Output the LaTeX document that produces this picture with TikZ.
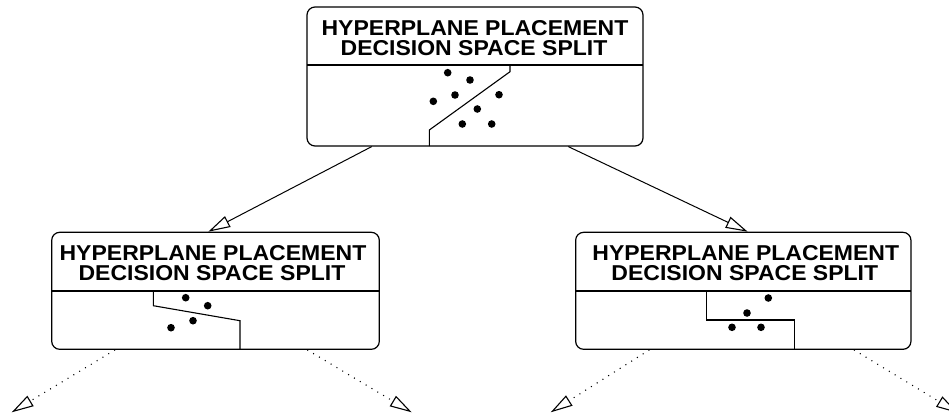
\documentclass[tikz,border=0pt]{standalone}
\usepackage{fontspec}
\setmainfont{Liberation Sans}[FakeStretch=1.07]
\usetikzlibrary{arrows.meta}
\tikzset{
  box/.style={draw, line width=1.2pt, rounded corners=8pt, inner sep=0pt},
  title/.style={anchor=base, inner sep=0pt, font=\fontsize{21.5}{20}\selectfont\bfseries},
  split/.style={line width=1.1pt},
  dot/.style={fill=black},
  link/.style={line width=1pt, -{Triangle[open, length=22pt, width=12pt, line width=1.1pt]}},
  weak/.style={line width=1.1pt, dash pattern=on 1pt off 5.8pt, -{Triangle[open, length=22pt, width=12pt, line width=1.1pt]}}
}
\begin{document}
\begin{tikzpicture}[x=1pt, y=-1pt]
\clip (0,0) rectangle (949,413);
\fill[white] (0,0) rectangle (949,413);

% boxes
\node[box, minimum width=336pt, minimum height=139pt] (top) at (475,76.5) {};
\node[box, minimum width=327.6pt, minimum height=117pt] (left) at (215.5,290.8) {};
\node[box, minimum width=335.3pt, minimum height=117pt] (right) at (743.3,290.8) {};

% dividers
\draw[split] (307,65) -- (643,65);
\draw[split] (51.7,291) -- (379.3,291);
\draw[split] (575.7,291) -- (911,291);

% titles
\node[title] (t1) at (475,35.3) {HYPERPLANE PLACEMENT};
\node[title] (t2) at (474,55) {DECISION SPACE SPLIT};
\node[title] (l1) at (213,260.5) {HYPERPLANE PLACEMENT};
\node[title] (l2) at (212,280.5) {DECISION SPACE SPLIT};
\node[title] (r1) at (745.8,260.5) {HYPERPLANE PLACEMENT};
\node[title] (r2) at (744.8,280.5) {DECISION SPACE SPLIT};

% split lines
\draw[split] (510,65) -- (510,71.7) -- (429.3,130) -- (429.3,146);
\draw[split] (153.3,291) -- (153.3,305.7) -- (240,320.7) -- (240,349.3);
\draw[split] (706.7,291) -- (706.7,320) -- (794.3,320) -- (794.3,349.3);

% dots
\foreach \p in {(447.7,72.7),(470,80),(455,95),(499,94.7),(433.3,101.3),(477.3,109),(462.3,124),(491.7,124)}
  \fill[dot] \p circle (3.8);
\foreach \p in {(185.7,297.7),(207.7,305.7),(193,320.7),(171,327.7)}
  \fill[dot] \p circle (3.8);
\foreach \p in {(768.3,298),(747,313),(732,327.3),(761,327.3)}
  \fill[dot] \p circle (3.8);

% connectors
\draw[link] ([xshift=-103.3pt]top.south) -- ([xshift=-7.2pt]left.north);
\draw[link] ([xshift=93.3pt]top.south) -- ([xshift=4.4pt]right.north);

\coordinate (e1) at (11.7,412.3);
\coordinate (e2) at (411.7,412.3);
\coordinate (e3) at (550.7,412.3);
\coordinate (e4) at (958,413);
\draw[weak] ([xshift=-100.5pt]left.south) -- (e1);
\draw[weak] ([xshift=91.8pt]left.south) -- (e2);
\draw[weak] ([xshift=-94pt]right.south) -- (e3);
\draw[weak] ([xshift=110.7pt]right.south) -- (e4);
\end{tikzpicture}
\end{document}
